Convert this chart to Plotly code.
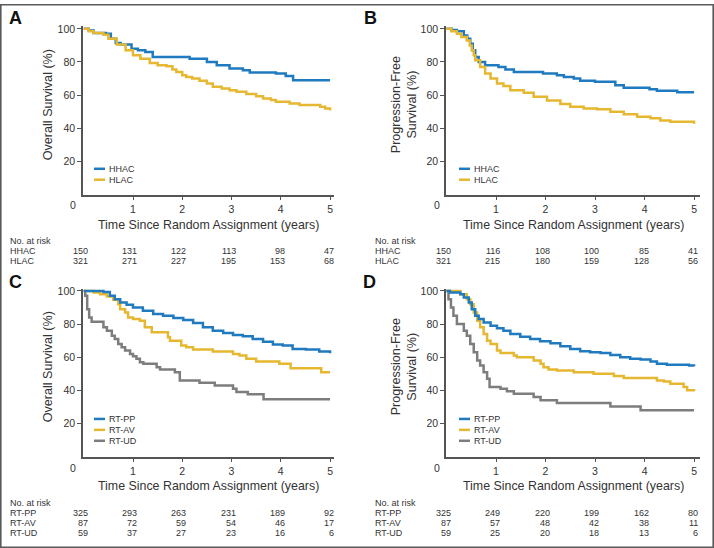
import plotly.graph_objects as go

W, H = 714, 548

# ---------------- data ----------------
years = [0, 1, 2, 3, 4, 5]
y_ticks = [20, 40, 60, 80, 100]

# Panel A: overall survival by HHAC/HLAC
a_hhac_t = [0, 0.1, 0.2, 0.45, 0.55, 0.65, 0.75, 0.97, 1.1, 1.25, 1.4, 2.15, 2.5, 2.7, 2.96, 3.23, 3.37, 3.9, 4.1, 4.25, 5.0]
a_hhac_s = [100, 99, 97.5, 97, 94, 91.5, 90.5, 88, 87, 86, 83, 82, 80, 78, 76, 75, 73.7, 73, 71.5, 69, 69]
a_hlac_t = [0, 0.1, 0.2, 0.4, 0.5, 0.67, 0.85, 1.0, 1.15, 1.34, 1.5, 1.68, 1.8, 1.88, 2.0, 2.08, 2.2, 2.35, 2.5, 2.62, 2.8, 2.96, 3.1, 3.3, 3.5, 3.64, 3.8, 3.9, 4.18, 4.38, 4.65, 4.8, 4.9, 5.0]
a_hlac_s = [100, 98.5, 97.5, 96.5, 94, 90.6, 87, 84, 82, 79.4, 78, 77.4, 75.5, 74, 72, 71, 70, 68.7, 67, 65, 64, 63, 62, 60.7, 59.3, 58, 57, 56, 55, 54, 54, 53, 52, 50.7]

# Panel B: progression-free survival by HHAC/HLAC
b_hhac_t = [0, 0.1, 0.21, 0.35, 0.42, 0.48, 0.53, 0.58, 0.65, 0.78, 1.05, 1.19, 1.36, 1.95, 2.23, 2.37, 2.57, 2.7, 3.0, 3.41, 3.58, 4.1, 4.25, 4.66, 5.0]
b_hhac_s = [100, 99.3, 98.6, 96, 94, 91, 87, 83, 80, 78, 77, 75.4, 74, 73, 72, 71, 70, 68.7, 68, 66, 64.5, 63.5, 62.7, 61.7, 61.7]
b_hlac_t = [0, 0.1, 0.21, 0.3, 0.41, 0.47, 0.51, 0.55, 0.58, 0.68, 0.78, 0.89, 1.02, 1.15, 1.29, 1.56, 1.76, 2.03, 2.3, 2.5, 2.77, 3.04, 3.31, 3.58, 3.85, 4.12, 4.32, 4.52, 4.79, 5.0]
b_hlac_s = [100, 98.5, 97, 95, 93, 90, 87, 84, 81, 77, 73, 70, 67, 65.5, 63, 61.5, 59, 56.7, 54.7, 53, 52, 51.5, 50, 48.5, 47, 46, 44.7, 44, 44, 42.7]

# Panel C: overall survival by RT group
c_pp_t = [0, 0.26, 0.4, 0.53, 0.63, 0.74, 0.87, 1.0, 1.2, 1.41, 1.61, 1.82, 2.02, 2.22, 2.42, 2.62, 2.83, 3.03, 3.23, 3.43, 3.64, 3.84, 4.04, 4.24, 4.51, 4.78, 5.0]
c_pp_s = [100, 100, 99.4, 97, 95, 93, 91.6, 90, 88, 86, 85, 83.6, 82.4, 80.6, 78, 76, 74.6, 73.4, 72.6, 71, 69.4, 67.6, 67, 65, 64.6, 63.4, 62.4]
c_av_t = [0, 0.2, 0.33, 0.47, 0.6, 0.7, 0.74, 0.84, 0.9, 1.0, 1.14, 1.24, 1.38, 1.71, 1.75, 1.98, 2.08, 2.22, 2.62, 3.03, 3.16, 3.3, 3.5, 3.97, 4.2, 4.82, 5.0]
c_av_s = [100, 99, 98, 96.6, 94.6, 92, 89, 87, 84, 83, 82, 78, 75, 72, 70, 67, 66, 64.6, 63.4, 62, 61, 59, 57.4, 56, 53.4, 51, 51]
c_ud_t = [0, 0.03, 0.07, 0.11, 0.16, 0.4, 0.47, 0.57, 0.63, 0.7, 0.77, 0.84, 0.94, 1.0, 1.07, 1.14, 1.21, 1.48, 1.55, 1.85, 1.95, 2.35, 2.66, 3.03, 3.1, 3.33, 3.65, 5.0]
c_ud_s = [100, 97, 89, 84, 81.4, 78, 76, 73, 71, 68, 66, 64, 62, 60.6, 59, 57, 56, 54, 52.6, 51, 46, 44.6, 43, 41, 39, 37.6, 34.6, 34.6]

# Panel D: progression-free survival by RT group
d_pp_t = [0, 0.07, 0.28, 0.35, 0.45, 0.51, 0.58, 0.65, 0.75, 0.89, 1.02, 1.15, 1.29, 1.49, 1.69, 1.89, 2.1, 2.3, 2.5, 2.7, 2.9, 3.11, 3.31, 3.51, 3.71, 3.92, 4.12, 4.25, 4.45, 4.72, 4.9, 5.0]
d_pp_s = [100, 99, 98, 96, 93, 89, 85, 83, 81, 79, 77.4, 76, 74, 72.4, 71, 69.6, 68.4, 66.6, 65, 63.6, 63, 62.6, 61.4, 60, 59, 58.6, 57.4, 56, 55.4, 55.4, 55, 54.6]
d_av_t = [0, 0.21, 0.28, 0.41, 0.48, 0.55, 0.62, 0.68, 0.75, 0.82, 0.89, 1.02, 1.09, 1.36, 1.42, 1.76, 1.9, 1.96, 2.06, 2.23, 2.57, 2.97, 3.38, 3.58, 4.25, 4.39, 4.52, 4.79, 4.86, 5.0]
d_av_s = [100, 100, 98, 95, 92, 87, 82, 78, 74, 70, 68, 64, 62.6, 61, 60, 58, 56, 54, 52.6, 52, 51, 50, 48.6, 47.4, 46, 45.4, 44, 42, 40, 39.4]
d_ud_t = [0, 0.04, 0.09, 0.14, 0.21, 0.35, 0.41, 0.48, 0.55, 0.62, 0.68, 0.75, 0.82, 0.87, 1.09, 1.22, 1.36, 1.76, 1.9, 2.23, 3.31, 3.92, 5.0]
d_ud_s = [100, 95, 90, 85, 80, 76, 73, 68, 63, 58, 55, 51, 47, 42, 41, 39.5, 38, 36, 34, 32.4, 30.2, 28, 28]

# numbers at risk
risk_a = {"HHAC": [150, 131, 122, 113, 98, 47], "HLAC": [321, 271, 227, 195, 153, 68]}
risk_b = {"HHAC": [150, 116, 108, 100, 85, 41], "HLAC": [321, 215, 180, 159, 128, 56]}
risk_c = {"RT-PP": [325, 293, 263, 231, 189, 92], "RT-AV": [87, 72, 59, 54, 46, 17], "RT-UD": [59, 37, 27, 23, 16, 6]}
risk_d = {"RT-PP": [325, 249, 220, 199, 162, 80], "RT-AV": [87, 57, 48, 42, 38, 11], "RT-UD": [59, 25, 20, 18, 13, 6]}

# ---------------- styling ----------------
BLUE = "#1f7abf"
YELLOW = "#e6b730"
GRAY = "#7d7d7d"
AXC = "#555555"
TXT = "#333333"
FONT = "Liberation Sans, Arial, sans-serif"


def px(x):
    return x / W


def py(y):
    return 1 - y / H


fig = go.Figure()

panels = [
    dict(n="", xd=(83, 334), yd=(192, 22), xr=[-0.015, 5.08], yr=[0, 101.8]),
    dict(n="2", xd=(446, 700), yd=(192, 22), xr=[-0.01, 5.12], yr=[0, 101.8]),
    dict(n="3", xd=(83, 334), yd=(456, 287), xr=[-0.015, 5.08], yr=[0, 101.2]),
    dict(n="4", xd=(446, 700), yd=(456, 287), xr=[-0.01, 5.12], yr=[0, 101.2]),
]

axis_common = dict(showline=True, linecolor=AXC, linewidth=1.5, ticks="outside",
                   ticklen=4, tickwidth=1.2, tickcolor=AXC, showgrid=False, zeroline=False,
                   tickfont=dict(family=FONT, size=10.5, color=TXT), fixedrange=True)

for p in panels:
    n = p["n"]
    fig.layout["xaxis" + n] = dict(domain=[px(p["xd"][0]), px(p["xd"][1])], range=p["xr"],
                                   anchor="y" + n, tickvals=years[1:], **axis_common)
    fig.layout["yaxis" + n] = dict(domain=[py(p["yd"][0]), py(p["yd"][1])], range=p["yr"],
                                   anchor="x" + n, tickvals=y_ticks, **axis_common)

series = [
    ("", a_hhac_t, a_hhac_s, BLUE), ("", a_hlac_t, a_hlac_s, YELLOW),
    ("2", b_hhac_t, b_hhac_s, BLUE), ("2", b_hlac_t, b_hlac_s, YELLOW),
    ("3", c_ud_t, c_ud_s, GRAY), ("3", c_av_t, c_av_s, YELLOW), ("3", c_pp_t, c_pp_s, BLUE),
    ("4", d_ud_t, d_ud_s, GRAY), ("4", d_av_t, d_av_s, YELLOW), ("4", d_pp_t, d_pp_s, BLUE),
]
for n, t, s, c in series:
    fig.add_trace(go.Scatter(x=t, y=s, mode="lines", line=dict(color=c, width=2.5, shape="hv"),
                             xaxis="x" + n, yaxis="y" + n, showlegend=False, hoverinfo="skip"))

ann = []
shapes = []


def label(text, x, y, size, xanchor="center", angle=0, xref="paper", xshift=0, color=TXT):
    ann.append(dict(text=text, x=x, y=py(y), xref=xref, yref="paper", xanchor=xanchor,
                    yanchor="middle", showarrow=False, textangle=angle, xshift=xshift,
                    font=dict(family=FONT, size=size, color=color)))


# panel letters
for letter, x, y in [("A", 15, 14), ("B", 370, 14), ("C", 15, 280), ("D", 369, 280)]:
    label("<b>%s</b>" % letter, px(x), y, 18, color="#111")

# axis titles
xt = "Time Since Random Assignment (years)"
for x, y in [(208, 223), (573, 223), (208, 486), (573, 486)]:
    label(xt, px(x), y, 12.4)
for text, x, y in [("Overall Survival (%)", 48, 102), ("Progression-Free<br>Survival (%)", 404, 102),
                   ("Overall Survival (%)", 48, 366), ("Progression-Free<br>Survival (%)", 404, 366)]:
    label(text, px(x), y, 12.6, angle=-90)

# origin "0" labels
for x, y in [(73, 202), (437, 202), (73, 467), (437, 467)]:
    label(str(years[0]), px(x), y, 10.5)

# legends
legends = [
    (94, [("HHAC", BLUE, 166), ("HLAC", YELLOW, 177)]),
    (459, [("HHAC", BLUE, 166), ("HLAC", YELLOW, 177)]),
    (94, [("RT-PP", BLUE, 418), ("RT-AV", YELLOW, 429), ("RT-UD", GRAY, 440)]),
    (459, [("RT-PP", BLUE, 418), ("RT-AV", YELLOW, 429), ("RT-UD", GRAY, 440)]),
]
for x0, items in legends:
    for name, col, y in items:
        shapes.append(dict(type="line", xref="paper", yref="paper", x0=px(x0), x1=px(x0 + 11),
                           y0=py(y), y1=py(y), line=dict(color=col, width=2.5)))
        label(name, px(x0 + 13), y, 9, xanchor="left")

# risk tables
tables = [("", 8, 239, risk_a), ("2", 373, 239, risk_b), ("3", 8, 503, risk_c), ("4", 373, 503, risk_d)]
for n, xl, y0, tab in tables:
    label("No. at risk", px(xl), y0, 9, xanchor="left")
    for i, (name, vals) in enumerate(tab.items()):
        yy = y0 + 10 * (i + 1)
        label(name, px(xl), yy, 9, xanchor="left")
        for t, v in zip(years, vals):
            label(str(v), t, yy, 9, xanchor="right", xref="x" + n, xshift=6)

# outer frame
shapes.append(dict(type="rect", xref="paper", yref="paper", x0=px(0.8), x1=px(713.2), y0=py(0.8),
                   y1=py(547.2), line=dict(color="#5a5a5a", width=1.6)))

fig.update_layout(width=W, height=H, margin=dict(l=0, r=0, t=0, b=0), paper_bgcolor="white",
                  plot_bgcolor="white", annotations=ann, shapes=shapes, showlegend=False)

fig.write_html("out.html", config={"displayModeBar": False},
               post_script="document.body.style.margin='0';")
